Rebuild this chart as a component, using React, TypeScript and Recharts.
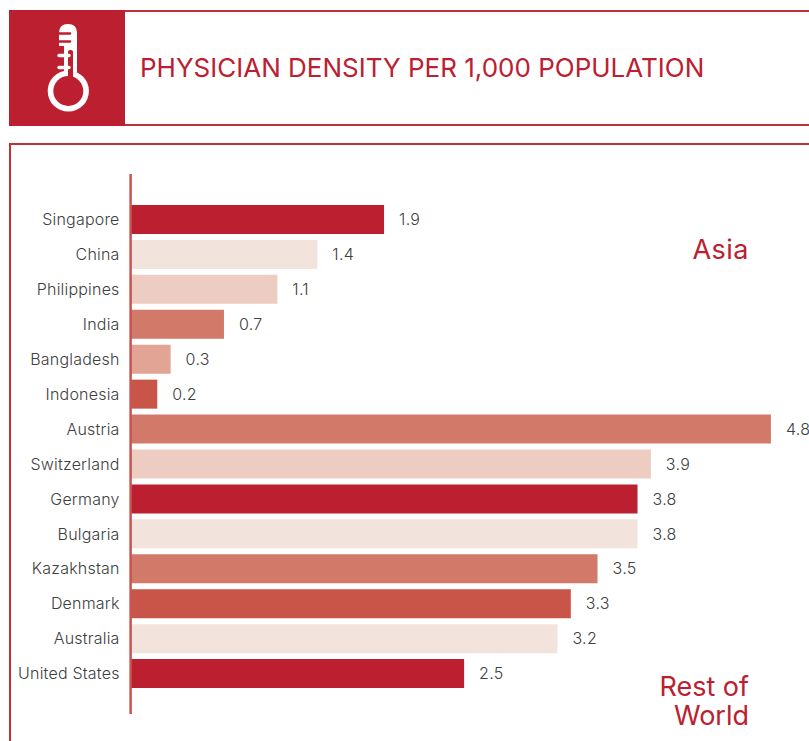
import { BarChart, Bar, XAxis, YAxis, Cell, LabelList } from "recharts";

const RED = "#bc2030";
const FRAME = "#c22f3c";
const FONT = "Inter, 'Noto Sans', sans-serif";

const countries = [
  "Singapore",
  "China",
  "Philippines",
  "India",
  "Bangladesh",
  "Indonesia",
  "Austria",
  "Switzerland",
  "Germany",
  "Bulgaria",
  "Kazakhstan",
  "Denmark",
  "Australia",
  "United States",
];
const density = [1.9, 1.4, 1.1, 0.7, 0.3, 0.2, 4.8, 3.9, 3.8, 3.8, 3.5, 3.3, 3.2, 2.5];
const barColors = [
  "#bc2030",
  "#f3e3dd",
  "#edccc2",
  "#d2796a",
  "#e2a595",
  "#c95448",
  "#d2796a",
  "#edccc2",
  "#bc2030",
  "#f3e3dd",
  "#d2796a",
  "#c95448",
  "#f3e3dd",
  "#bc2030",
];

const data = countries.map((name, i) => ({ name, value: density[i] }));

function Thermometer() {
  return (
    <svg width={130} height={125} style={{ position: "absolute", left: 0, top: 0 }}>
      {/* stem head, rounded on top */}
      <path d="M59 46 V33 Q59 24 68 24 Q77 24 77 33 V74 H64 V46 Z" fill="#fff" />
      <circle cx={68.3} cy={91} r={20.6} fill="#fff" />
      <circle cx={68.3} cy={91} r={15} fill={RED} />
      <path d="M59 33.5 H70 M59 41.5 H70" stroke={RED} strokeWidth={2.6} strokeLinecap="round" />
      <rect x={68} y={50} width={5} height={30} rx={2} fill={RED} />
      <path d="M59 55.5 H69 M59 67.5 H69" stroke="#fff" strokeWidth={3.4} strokeLinecap="round" />
    </svg>
  );
}

export default function App() {
  return (
    <div style={{ position: "fixed", left: 0, top: 0, width: 809, height: 741, overflow: "hidden", background: "#fff", fontFamily: FONT, fontWeight: 300 }}>
      <div style={{ position: "absolute", left: 9, top: 10, width: 800, height: 116, boxSizing: "border-box", borderTop: `2.5px solid ${FRAME}`, borderBottom: `2.5px solid ${FRAME}` }} />
      <div style={{ position: "absolute", left: 9, top: 10, width: 116, height: 116, background: RED }} />
      <Thermometer />
      <div style={{ position: "absolute", left: 140, top: 50, color: RED, fontSize: 26, lineHeight: "36px", whiteSpace: "nowrap", fontWeight: 400 }}>
        PHYSICIAN DENSITY PER 1,000 POPULATION
      </div>

      <div style={{ position: "absolute", left: 9, top: 142.5, width: 800, height: 599, boxSizing: "border-box", borderTop: `2.5px solid ${FRAME}`, borderLeft: `2.5px solid ${FRAME}` }} />

      <div style={{ position: "absolute", left: 0, top: 174 }}>
        <BarChart
          width={809}
          height={540}
          data={data}
          layout="vertical"
          barSize={29}
          margin={{ top: 0, right: 11.4, bottom: 0, left: 0 }}
        >
          <XAxis type="number" domain={[0, 5]} hide />
          <YAxis
            type="category"
            dataKey="name"
            width={130.6}
            interval={0}
            tickSize={0}
            tickMargin={11}
            padding={{ top: 28, bottom: 23 }}
            axisLine={{ stroke: "#c9534f", strokeWidth: 2.5 }}
            tickLine={false}
            tick={{ fill: "#404040", fontSize: 16, letterSpacing: 0.2, fontFamily: FONT, fontWeight: 300 }}
          />
          <Bar dataKey="value" isAnimationActive={false}>
            {data.map((d, i) => (
              <Cell key={d.name} fill={barColors[i]} />
            ))}
            <LabelList
              dataKey="value"
              position="right"
              offset={15}
              fill="#404040"
              fontSize={16}
              letterSpacing={0.3}
              fontFamily={FONT}
              fontWeight={300}
            />
          </Bar>
        </BarChart>
      </div>

      <div style={{ position: "absolute", right: 60, top: 233, color: RED, fontSize: 27, letterSpacing: 0.5, lineHeight: "34px", textAlign: "right", fontWeight: 400 }}>Asia</div>
      <div style={{ position: "absolute", right: 60, top: 672, color: RED, fontSize: 27, lineHeight: "29px", textAlign: "right", fontWeight: 400 }}>
        Rest of
        <br />
        World
      </div>
    </div>
  );
}
